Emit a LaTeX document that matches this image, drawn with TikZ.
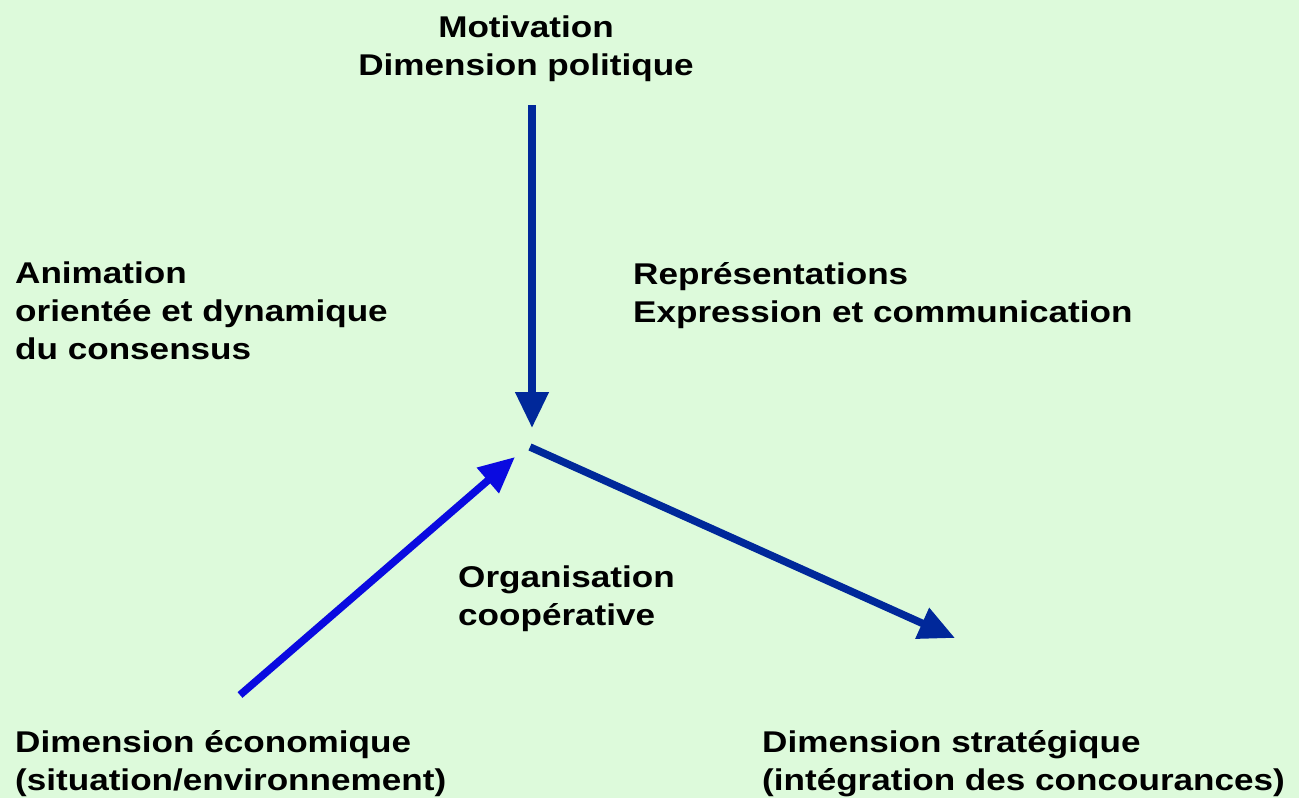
\documentclass[tikz,border=0pt]{standalone}
\usepackage{fontspec}
\setmainfont{Liberation Sans}[FakeStretch=1.17]
\usetikzlibrary{arrows.meta}
\definecolor{bg}{HTML}{DDFADB}
\definecolor{darkarrow}{HTML}{00289A}
\definecolor{brightarrow}{HTML}{0A0AE0}
\begin{document}
\begin{tikzpicture}[x=1pt,y=-1pt,
  lbl/.style={font=\fontsize{30}{38}\selectfont\bfseries, inner sep=0pt, align=left, anchor=north west},
  clbl/.style={font=\fontsize{30}{38}\selectfont\bfseries, inner sep=0pt, align=center, anchor=north},
  arr/.style={line width=7.5pt, -{Triangle[length=36pt,width=32pt]}}]
\fill[bg] (0,0) rectangle (1299,798);
\useasboundingbox (0,0) rectangle (1299,798);
\node[clbl] (mot) at (526,16) {Motivation\\Dimension politique};
\node[lbl] (anim) at (15,262) {Animation\\orientée et dynamique\\du consensus};
\node[lbl] (rep) at (633,262) {Représentations\\Expression et communication};
\node[lbl] (org) at (458,566) {Organisation\\coopérative};
\node[lbl] (eco) at (15,730) {Dimension économique\\(situation/environnement)};
\node[lbl] (strat) at (762,730) {Dimension stratégique\\(intégration des concourances)};
\coordinate (dtop) at (532,105);
\coordinate (dtip) at (532,428);
\coordinate (rstart) at (530,447);
\coordinate (rtip) at (955,638);
\coordinate (lstart) at (240,695);
\coordinate (ltip) at (515,457);
\draw[arr, darkarrow] (dtop) -- (dtip);
\draw[arr, darkarrow] (rstart) -- (rtip);
\draw[arr, brightarrow] (lstart) -- (ltip);
\end{tikzpicture}
\end{document}
